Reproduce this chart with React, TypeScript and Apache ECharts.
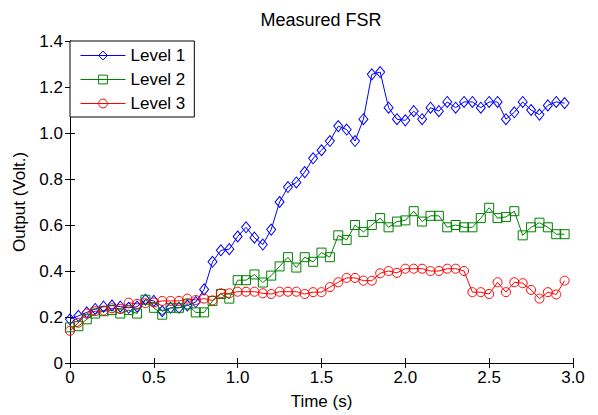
import React, { useEffect, useRef } from "react";
import * as echarts from "echarts";

const times = [
  0, 0.05, 0.1, 0.15, 0.2, 0.25, 0.3, 0.35, 0.4, 0.45,
  0.5, 0.55, 0.6, 0.65, 0.7, 0.75, 0.8, 0.85, 0.9, 0.95,
  1.0, 1.05, 1.1, 1.15, 1.2, 1.25, 1.3, 1.35, 1.4, 1.45,
  1.5, 1.55, 1.6, 1.65, 1.7, 1.75, 1.8, 1.85, 1.9, 1.95,
  2.0, 2.05, 2.1, 2.15, 2.2, 2.25, 2.3, 2.35, 2.4, 2.45,
  2.5, 2.55, 2.6, 2.65, 2.7, 2.75, 2.8, 2.85, 2.9, 2.95,
];

const level1 = [
  0.19, 0.205, 0.22, 0.235, 0.245, 0.25, 0.245, 0.24, 0.245, 0.275,
  0.27, 0.225, 0.24, 0.24, 0.25, 0.265, 0.32, 0.44, 0.49, 0.495,
  0.55, 0.59, 0.545, 0.515, 0.58, 0.7, 0.765, 0.785, 0.83, 0.89,
  0.925, 0.965, 1.03, 1.015, 0.965, 1.06, 1.255, 1.265, 1.11, 1.06,
  1.055, 1.095, 1.06, 1.11, 1.095, 1.135, 1.11, 1.135, 1.135, 1.11,
  1.135, 1.135, 1.06, 1.09, 1.135, 1.1, 1.08, 1.12, 1.135, 1.13,
];

const level2 = [
  0.155, 0.16, 0.19, 0.215, 0.225, 0.23, 0.215, 0.23, 0.215, 0.275,
  0.24, 0.21, 0.24, 0.24, 0.255, 0.22, 0.22, 0.27, 0.3, 0.28,
  0.36, 0.36, 0.385, 0.35, 0.38, 0.42, 0.46, 0.415, 0.46, 0.44,
  0.48, 0.46, 0.555, 0.535, 0.6, 0.57, 0.6, 0.63, 0.59, 0.615,
  0.62, 0.66, 0.615, 0.64, 0.64, 0.59, 0.6, 0.59, 0.59, 0.63,
  0.675, 0.63, 0.635, 0.66, 0.555, 0.59, 0.61, 0.59, 0.56, 0.56,
];

const level3 = [
  0.14, 0.175, 0.215, 0.225, 0.228, 0.238, 0.235, 0.262, 0.257, 0.26,
  0.263, 0.27, 0.27, 0.27, 0.28, 0.274, 0.28, 0.272, 0.303, 0.303,
  0.31, 0.31, 0.31, 0.303, 0.3, 0.31, 0.31, 0.31, 0.3, 0.308,
  0.308, 0.33, 0.351, 0.37, 0.37, 0.358, 0.358, 0.39, 0.4, 0.392,
  0.41, 0.41, 0.41, 0.4, 0.4, 0.41, 0.41, 0.4, 0.308, 0.308,
  0.3, 0.351, 0.308, 0.351, 0.347, 0.318, 0.28, 0.308, 0.298, 0.358,
];

const seriesNames = ["Level 1", "Level 2", "Level 3"];
const seriesColors = ["#0000ff", "#008000", "#ff0000"];
const seriesSymbols = ["diamond", "rect", "circle"];
const seriesSizes: (number | number[])[] = [[9, 11], 9, 9];

const xMin = 0;
const xMax = 3;
const xStep = 0.5;
const yMin = 0;
const yMax = 1.4;
const yStep = 0.2;

const titleText = "Measured FSR";
const xName = "Time (s)";
const yName = "Output (Volt.)";

const FONT = "'Liberation Sans', Arial, Helvetica, sans-serif";

const fmt = (v: number) => (Math.abs(v) < 1e-9 ? "0" : v.toFixed(1));

export default function App() {
  const ref = useRef<HTMLDivElement>(null);

  useEffect(() => {
    if (!ref.current) return;
    const chart = echarts.init(ref.current, undefined, { renderer: "svg" });
    const allData = [level1, level2, level3];

    const axisLine = { show: true, lineStyle: { color: "#000", width: 1 } };
    const axisTick = { show: true, inside: true, length: 5, lineStyle: { color: "#000", width: 1 } };

    const option: any = {
      animation: false,
      backgroundColor: "#fff",
      textStyle: { fontFamily: FONT },
      title: {
        text: titleText,
        left: 321,
        textAlign: "center",
        top: 11,
        padding: 0,
        textStyle: { fontSize: 18, fontWeight: "normal", color: "#000", fontFamily: FONT },
      },
      grid: { left: 70, right: 25, top: 41, bottom: 48, containLabel: false },
      legend: {
        orient: "vertical",
        left: 70,
        top: 41,
        padding: [6, 9, 5, 10],
        itemGap: 7,
        itemWidth: 45,
        itemHeight: 11,
        borderColor: "#000",
        borderWidth: 1,
        borderRadius: 0,
        backgroundColor: "#fff",
        textStyle: { fontSize: 17, color: "#000", fontFamily: FONT, padding: [0, 0, 0, 0] },
        data: seriesNames.map((name, i) => ({
          name,
          itemStyle: { color: "rgba(0,0,0,0)", borderColor: seriesColors[i], borderWidth: 1 },
          lineStyle: { color: seriesColors[i], width: 1 },
        })),
      },
      xAxis: [
        {
          type: "value",
          min: xMin,
          max: xMax,
          interval: xStep,
          position: "bottom",
          name: xName,
          nameLocation: "middle",
          nameGap: 30,
          nameTextStyle: { fontSize: 17, color: "#000", fontFamily: FONT },
          axisLine,
          axisTick,
          axisLabel: { show: true, color: "#000", fontSize: 17, margin: 6, formatter: fmt, fontFamily: FONT },
          splitLine: { show: false },
        },
        {
          type: "value",
          min: xMin,
          max: xMax,
          interval: xStep,
          position: "top",
          axisLine,
          axisTick,
          axisLabel: { show: false },
          splitLine: { show: false },
        },
      ],
      yAxis: [
        {
          type: "value",
          min: yMin,
          max: yMax,
          interval: yStep,
          position: "left",
          name: yName,
          nameLocation: "middle",
          nameGap: 38,
          nameTextStyle: { fontSize: 17, color: "#000", fontFamily: FONT },
          axisLine,
          axisTick,
          axisLabel: { show: true, color: "#000", fontSize: 17, margin: 7, formatter: fmt, fontFamily: FONT },
          splitLine: { show: false },
        },
        {
          type: "value",
          min: yMin,
          max: yMax,
          interval: yStep,
          position: "right",
          axisLine,
          axisTick,
          axisLabel: { show: false },
          splitLine: { show: false },
        },
      ],
      series: seriesNames.map((name, i) => ({
        name,
        type: "line",
        xAxisIndex: 0,
        yAxisIndex: 0,
        data: times.map((t, j) => [t, allData[i][j]]),
        symbol: seriesSymbols[i],
        symbolSize: seriesSizes[i],
        showAllSymbol: true,
        lineStyle: { color: seriesColors[i], width: 1 },
        itemStyle: { color: "rgba(0,0,0,0)", borderColor: seriesColors[i], borderWidth: 1 },
        emphasis: { disabled: true },
      })),
    };

    chart.setOption(option);
    return () => chart.dispose();
  }, []);

  return (
    <div
      ref={ref}
      style={{ position: "fixed", left: 0, top: 0, width: 598, height: 415 }}
    />
  );
}
